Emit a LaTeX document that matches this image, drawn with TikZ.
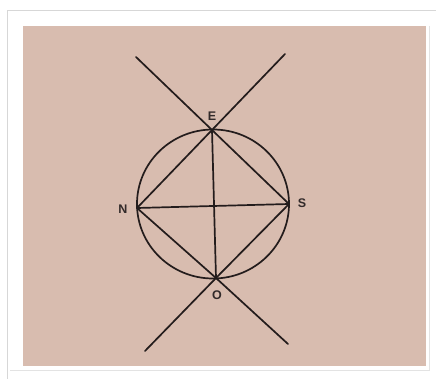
\documentclass[tikz,border=0pt]{standalone}
\usepackage{fontspec}
\setmainfont{Liberation Sans}
\definecolor{paper}{RGB}{216,188,175}
\definecolor{ink}{RGB}{35,28,28}
\definecolor{labelink}{RGB}{50,42,42}
\definecolor{framegrey}{RGB}{215,215,215}
\begin{document}
\begin{tikzpicture}[x=1pt,y=-1pt,
  geo/.style={draw=ink,line width=1.7pt,line cap=round},
  ptlabel/.style={text=labelink,font=\fontsize{12.5}{14}\selectfont\bfseries,inner sep=0pt}]
\useasboundingbox (0,0) rectangle (436,379);
\fill[white] (0,0) rectangle (436,379);
\draw[framegrey,line width=0.8pt] (7,379) -- (7,10) -- (436,10);
\draw[framegrey!70,line width=0.8pt] (429,26) -- (429,370) -- (10,370);
\fill[paper] (23,26) rectangle (426,366);
% points
\coordinate (E) at (212,130);
\coordinate (S) at (289,204);
\coordinate (O) at (216,278);
\coordinate (N) at (137,208);
\coordinate (tl) at (136,57);
\coordinate (tr) at (285,54);
\coordinate (bl) at (145,351);
\coordinate (br) at (288,344);
% circle
\draw[geo] (213,204) ellipse [x radius=76, y radius=74.5];
% lines
\draw[geo] (tl) -- (E) -- (S);
\draw[geo] (tr) -- (E) -- (N);
\draw[geo] (N) -- (O) -- (br);
\draw[geo] (S) -- (O) -- (bl);
\draw[geo] (E) -- (O);
\draw[geo] (N) -- (S);
% labels
\node[ptlabel] (lE) at (212,116) {E};
\node[ptlabel] (lS) at (302,203) {S};
\node[ptlabel] (lO) at (217,295) {O};
\node[ptlabel] (lN) at (123,209) {N};
\end{tikzpicture}
\end{document}
